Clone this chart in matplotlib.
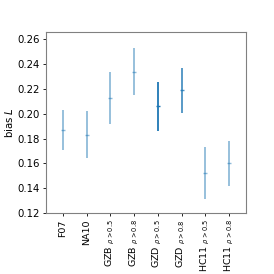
import matplotlib.pyplot as plt

# Data
labels = ['F07', 'NA10', r'GZB $_{\rho > 0.5}$', r'GZB $_{\rho > 0.8}$',
          r'GZD $_{\rho > 0.5}$', r'GZD $_{\rho > 0.8}$',
          r'HC11 $_{\rho > 0.5}$', r'HC11 $_{\rho > 0.8}$']
bias = [0.187, 0.183, 0.213, 0.234, 0.206, 0.219, 0.152, 0.160]
err = [0.016, 0.019, 0.021, 0.019, 0.020, 0.018, 0.021, 0.018]
alphas = [0.5, 0.5, 0.5, 0.5, 1.0, 0.8, 0.5, 0.5]

plt.rcParams['font.size'] = 7.3

fig, ax = plt.subplots(figsize=(2.74, 2.74), dpi=100)
for i, (b, e, a) in enumerate(zip(bias, err, alphas)):
    ax.errorbar(i, b, yerr=e, color='C0', alpha=a, marker='_', ms=3, lw=1.3)

ax.set_xticks(range(len(labels)))
ax.set_xticklabels(labels, rotation=90, fontsize=6.8)
ax.set_xlim(-0.72, 7.72)
ax.set_ylim(0.12, 0.266)
ax.set_yticks([0.12, 0.14, 0.16, 0.18, 0.20, 0.22, 0.24, 0.26])
ax.set_ylabel(r'bias $L$', labelpad=2)
ax.tick_params(length=2.5, width=0.6, pad=2)
for s in ax.spines.values():
    s.set_color('0.5')

plt.subplots_adjust(left=0.168, right=0.898, top=0.883, bottom=0.223)
plt.savefig('out.png', dpi=100)
